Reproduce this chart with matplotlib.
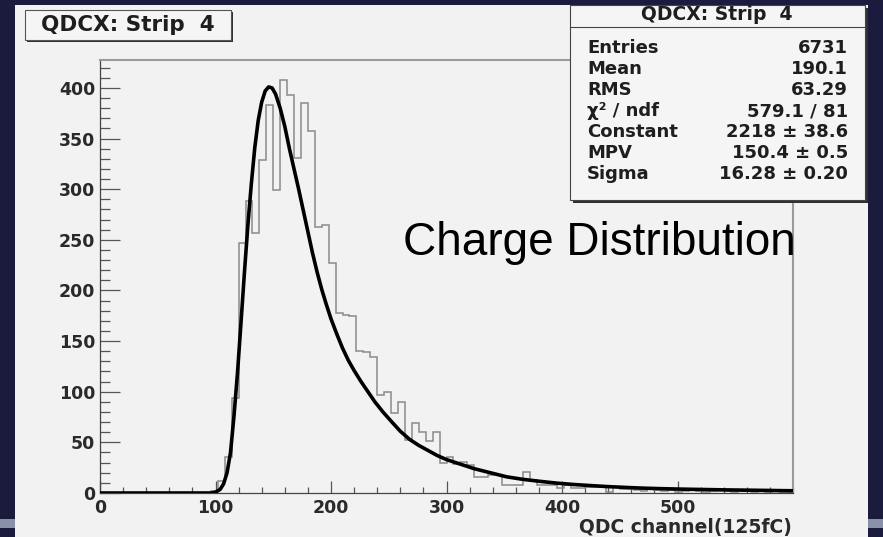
import numpy as np
import matplotlib
matplotlib.use("Agg")
import matplotlib.pyplot as plt
from matplotlib.patches import Rectangle
from matplotlib.lines import Line2D

# ---------------- data ----------------
bin_width = 6
hist_values = [0]*16 + [
    2, 12, 36, 94, 247, 288, 257, 329, 383, 299,
    408, 393, 331, 385, 357, 263, 265, 227, 178, 176,
    175, 140, 139, 134, 97, 100, 79, 90, 52, 69,
    60, 51, 60, 30, 36, 29, 31, 28, 16, 16,
    18, 18, 8, 8, 8, 21, 13, 8, 8, 8,
    5, 8, 5, 5, 6, 6, 6, 1, 6, 4,
    4, 3, 2, 4, 3, 2, 3, 1, 2, 3,
    2, 1, 2, 3, 2, 1, 2, 2, 1, 2,
    1, 2, 1, 1]

fit_x = [0, 96, 100, 104, 107, 110, 113, 116, 119, 122, 125, 128, 131, 134,
         137, 140, 143, 146, 149, 152, 156, 160, 164, 168, 172, 176, 180, 184,
         188, 192, 196, 200, 205, 210, 215, 220, 226, 232, 238, 245, 252, 260,
         268, 276, 284, 292, 300, 312, 324, 338, 352, 366, 381, 395, 410, 425,
         440, 455, 470, 485, 500, 520, 540, 560, 580, 600]
fit_y = [0, 0, 0.8, 3.5, 9, 20, 40, 76, 118, 167, 217, 264, 305, 341,
         368, 386, 397, 401, 400, 394, 380, 362, 340, 320, 300, 279, 258, 237,
         218, 201, 186, 172, 157, 143, 131, 121, 110, 100, 90, 80, 71, 61,
         53, 47, 42, 37, 33, 28.5, 24, 20, 16, 13.5, 11.5, 9.8, 8.4, 7.3,
         6.3, 5.5, 4.8, 4.3, 3.9, 3.5, 3.1, 2.8, 2.5, 2.2]

x_ticks = [0, 100, 200, 300, 400, 500]
y_ticks = [0, 50, 100, 150, 200, 250, 300, 350, 400]

stats_title = "QDCX: Strip  4"
stats_names = ["Entries", "Mean", "RMS", "\u03c7\u00b2 / ndf", "Constant", "MPV", "Sigma"]
stats_vals = ["6731", "190.1", "63.29", "579.1 / 81", "2218 \u00b1 38.6",
              "150.4 \u00b1 0.5", "16.28 \u00b1 0.20"]
title_text = "QDCX: Strip  4"
x_title = "QDC channel(125fC)"
overlay_text = "Charge Distribution"

# ---------------- figure ----------------
W, H = 883, 537
fig = plt.figure(figsize=(W/100, H/100), dpi=100)
fig.patch.set_facecolor("#1b1c3d")

def fx(x):
    return x / W

def fy(y):
    return 1 - y / H

def prect(x0, y0, x1, y1, **kw):
    r = Rectangle((fx(x0), fy(y1)), (x1 - x0) / W, (y1 - y0) / H,
                  transform=fig.transFigure, **kw)
    fig.add_artist(r)
    return r

# slide decoration band and canvas
prect(0, 519, W, 528, facecolor="#8a90a8", edgecolor="none", zorder=-20)
prect(15, 5, 868, 540, facecolor="#f2f2f2", edgecolor="none", zorder=-10)

# axes
ax = fig.add_axes([fx(100), fy(493), (793 - 100) / W, (493 - 60) / H])
ax.set_facecolor("#f2f2f2")
edges = np.arange(len(hist_values) + 1) * bin_width
ax.stairs(hist_values, edges, color="#8a8a8a", lw=1.1, zorder=2)
ax.plot(fit_x, fit_y, color="black", lw=2.6, zorder=3, solid_joinstyle="round")
ax.set_xlim(0, 600)
ax.set_ylim(0, 427.6)

for s in ["top", "right"]:
    ax.spines[s].set_color("#9a9a9a")
    ax.spines[s].set_linewidth(1.5)
for s in ["left", "bottom"]:
    ax.spines[s].set_color("#444444")
    ax.spines[s].set_linewidth(0.9)

ax.set_xticks(x_ticks)
ax.set_xticks(np.arange(0, 601, 20), minor=True)
ax.set_yticks(y_ticks)
ax.set_yticks(np.arange(0, 421, 10), minor=True)
ax.tick_params(axis="x", which="major", direction="in", length=8.6, width=0.9,
               color="#555555", pad=4.5, labelsize=12.5, labelcolor="#2a2a2a")
ax.tick_params(axis="x", which="minor", direction="in", length=4.3, width=0.9,
               color="#555555")
ax.tick_params(axis="y", which="major", direction="in", length=14.4, width=0.9,
               color="#555555", pad=3.5, labelsize=12.5, labelcolor="#2a2a2a")
ax.tick_params(axis="y", which="minor", direction="in", length=7.2, width=0.9,
               color="#555555")
for lab in ax.get_xticklabels() + ax.get_yticklabels():
    lab.set_fontweight("bold")
    lab.set_family("DejaVu Sans")

# x-axis title
fig.text(fx(792), fy(527), x_title, ha="right", va="center", fontsize=13.5,
         fontweight="bold", color="#2a2a2a", family="DejaVu Sans")

# title box
prect(27, 12, 233, 42, facecolor="#303030", edgecolor="none", zorder=5)
prect(25, 10, 231, 40, facecolor="#f5f5f5", edgecolor="#555555", lw=0.8, zorder=6)
fig.text(fx(128), fy(25), title_text, ha="center", va="center", fontsize=15.5,
         fontweight="bold", color="#1e1e1e", family="DejaVu Sans", zorder=7)

# stats box
prect(573, 8, 868, 203, facecolor="#303030", edgecolor="none", zorder=5)
prect(570, 5, 865, 200, facecolor="#f5f5f5", edgecolor="#444444", lw=0.8, zorder=6)
fig.add_artist(Line2D([fx(570), fx(865)], [fy(27), fy(27)], transform=fig.transFigure,
                      color="#444444", lw=0.8, zorder=7))
fig.text(fx(717), fy(15), stats_title, ha="center", va="center", fontsize=13.5,
         fontweight="bold", color="#1e1e1e", family="DejaVu Sans", zorder=8)
row_y = [48, 69, 90, 111, 132, 153, 174]
for name, val, yy in zip(stats_names, stats_vals, row_y):
    fig.text(fx(587), fy(yy), name, ha="left", va="center", fontsize=13,
             fontweight="bold", color="#1e1e1e", family="DejaVu Sans", zorder=8)
    fig.text(fx(848), fy(yy), val, ha="right", va="center", fontsize=13,
             fontweight="bold", color="#1e1e1e", family="DejaVu Sans", zorder=8)

# overlay annotation
fig.text(fx(403), fy(255), overlay_text, ha="left", va="baseline", fontsize=33,
         color="black", family="Liberation Sans", zorder=9)

fig.savefig("out.png", dpi=100, facecolor=fig.get_facecolor())
